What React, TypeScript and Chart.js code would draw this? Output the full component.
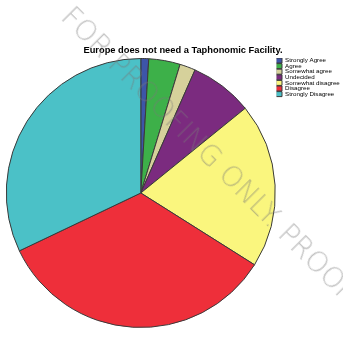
import React, { useEffect, useRef } from "react";
import { Chart, registerables } from "chart.js";

Chart.register(...registerables);

const TITLE = "Europe does not need a Taphonomic Facility.";
const categories = [
  "Strongly Agree",
  "Agree",
  "Somewhat agree",
  "Undecided",
  "Somewhat disagree",
  "Disagree",
  "Strongly Disagree",
];
const counts = [1, 4, 2, 8, 21, 36, 34];
const sliceColors = [
  "#3D55A8",
  "#3DB049",
  "#D6D19B",
  "#7B2B7F",
  "#FAF67E",
  "#EE2F3A",
  "#4BC1C7",
];
const WATERMARK = "FOR PROOFING ONLY. PROOFING ONLY.";

// horizontal nudge of the (centred) title, as in the original figure
const TITLE_SHIFT = 18;

const titleShiftPlugin = {
  id: "titleShift",
  afterLayout(chart: any) {
    const t = chart.titleBlock;
    if (t) t.left += TITLE_SHIFT;
  },
};

export default function App() {
  const canvasRef = useRef<HTMLCanvasElement | null>(null);

  useEffect(() => {
    document.body.style.margin = "0";
    const canvas = canvasRef.current;
    if (!canvas) return;
    const chart = new Chart(canvas, {
      type: "pie",
      data: {
        labels: categories,
        datasets: [
          {
            data: counts,
            backgroundColor: sliceColors,
            borderColor: "#3a3a3a",
            borderWidth: 1,
            hoverOffset: 0,
            offset: 0,
          },
        ],
      },
      plugins: [titleShiftPlugin],
      options: {
        responsive: false,
        animation: false,
        devicePixelRatio: 1,
        layout: { padding: { top: 45, left: 5, right: 0, bottom: 11 } },
        plugins: {
          title: {
            display: true,
            text: TITLE,
            align: "center",
            fullSize: true,
            color: "#000",
            font: { family: "'Liberation Sans', Arial, sans-serif", size: 9.3, weight: "bold", lineHeight: 1.2 },
            padding: { top: 0, bottom: 1.84 },
          },
          legend: {
            display: true,
            position: "right",
            align: "start",
            fullSize: false,
            maxWidth: 66.4,
            labels: {
              boxWidth: 6,
              boxHeight: 5,
              padding: -0.6,
              color: "#000",
              font: { family: "'Liberation Sans', Arial, sans-serif", size: 6.2 },
            },
          },
          tooltip: { enabled: false },
        },
      },
    });
    return () => chart.destroy();
  }, []);

  return (
    <div
      style={{
        position: "fixed",
        left: 0,
        top: 0,
        width: 343,
        height: 339,
        overflow: "hidden",
        background: "#fff",
      }}
    >
      <canvas ref={canvasRef} width={343} height={339} style={{ display: "block", width: 343, height: 339 }} />
      <div
        style={{
          position: "absolute",
          left: 66,
          top: -3,
          height: 30,
          lineHeight: "30px",
          transformOrigin: "0 50%",
          transform: "rotate(45deg)",
          whiteSpace: "nowrap",
          fontFamily: "'DejaVu Sans', sans-serif",
          fontWeight: 200,
          fontSize: 28,
          color: "rgba(120,120,120,0.45)",
          pointerEvents: "none",
        }}
      >
        {WATERMARK}
      </div>
    </div>
  );
}
